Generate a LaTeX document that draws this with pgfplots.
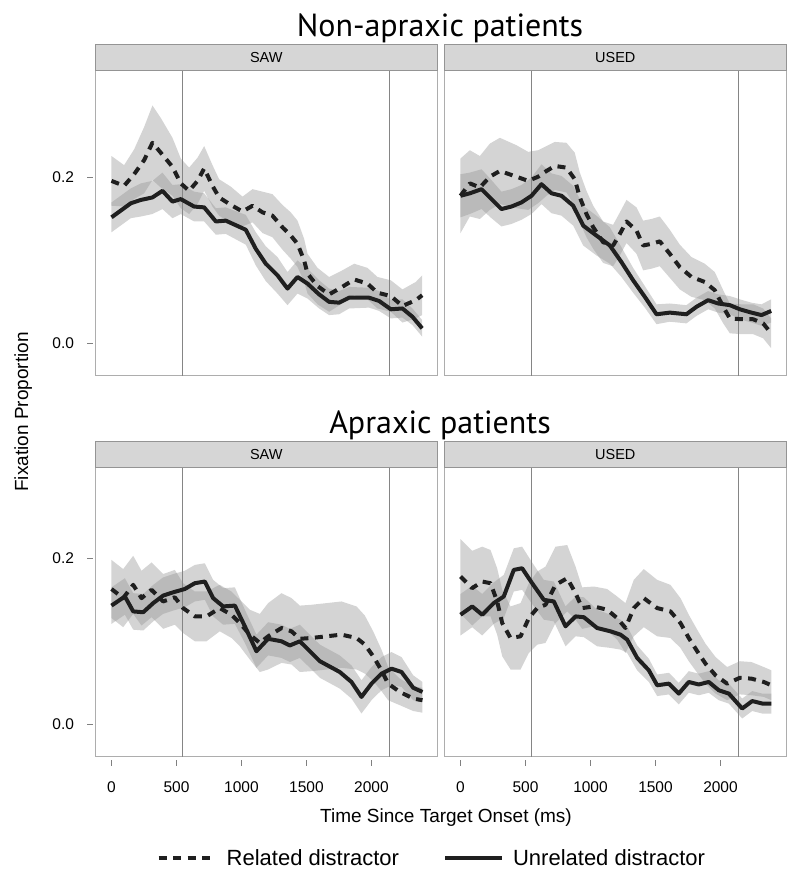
\documentclass[border=0pt]{standalone}
\usepackage{fontspec}
\setmainfont{Liberation Sans}
\newfontfamily\titlefont{PT Sans}
\usepackage{pgfplots}
\pgfplotsset{compat=1.18}
\usepackage{pgfplotstable}
\usepgfplotslibrary{fillbetween}

\definecolor{framegray}{gray}{0.68}
\definecolor{tickgray}{gray}{0.5}
\definecolor{stripfill}{gray}{0.84}
\definecolor{stripdraw}{gray}{0.58}
\definecolor{vgray}{gray}{0.52}
\definecolor{linec}{gray}{0.12}

% Non-apraxic, SAW, related
\pgfplotstableread{
t m se
0 0.196 0.030
97 0.190 0.025
174 0.204 0.030
251 0.221 0.040
315 0.242 0.045
379 0.230 0.042
469 0.213 0.035
533 0.193 0.030
597 0.184 0.028
662 0.196 0.028
713 0.211 0.027
777 0.190 0.025
828 0.176 0.022
918 0.167 0.022
1008 0.159 0.018
1085 0.166 0.020
1162 0.158 0.025
1238 0.154 0.026
1315 0.140 0.027
1379 0.130 0.028
1431 0.120 0.028
1482 0.100 0.026
1508 0.084 0.024
1585 0.069 0.022
1674 0.059 0.021
1764 0.067 0.020
1867 0.077 0.019
1969 0.072 0.019
2046 0.061 0.019
2149 0.057 0.019
2238 0.045 0.020
2341 0.052 0.022
2390 0.058 0.024
}\tlrel
% Non-apraxic, SAW, unrelated
\pgfplotstableread{
t m se
0 0.152 0.018
149 0.169 0.018
226 0.173 0.020
315 0.176 0.020
392 0.184 0.022
469 0.171 0.020
533 0.174 0.018
636 0.165 0.018
713 0.164 0.017
803 0.147 0.016
879 0.148 0.016
1033 0.137 0.018
1110 0.114 0.020
1187 0.096 0.021
1277 0.082 0.022
1354 0.066 0.020
1431 0.080 0.020
1508 0.072 0.018
1597 0.059 0.017
1674 0.050 0.016
1751 0.049 0.014
1828 0.055 0.013
1982 0.055 0.012
2059 0.051 0.012
2149 0.041 0.011
2238 0.042 0.011
2315 0.032 0.010
2390 0.018 0.010
}\tlunr
% Non-apraxic, USED, related
\pgfplotstableread{
t m se
0 0.178 0.045
72 0.193 0.040
149 0.188 0.038
226 0.201 0.040
303 0.208 0.040
431 0.201 0.038
521 0.196 0.035
597 0.201 0.032
662 0.208 0.030
726 0.214 0.029
815 0.212 0.030
879 0.198 0.032
918 0.176 0.030
969 0.156 0.028
1021 0.140 0.026
1097 0.122 0.025
1174 0.118 0.025
1226 0.132 0.026
1277 0.147 0.026
1354 0.136 0.028
1405 0.118 0.030
1469 0.120 0.030
1533 0.123 0.030
1610 0.108 0.029
1687 0.092 0.027
1777 0.080 0.024
1879 0.074 0.022
1956 0.064 0.022
2021 0.044 0.020
2072 0.030 0.018
2162 0.029 0.018
2251 0.029 0.018
2328 0.024 0.018
2390 0.012 0.018
}\trrel
% Non-apraxic, USED, unrelated
\pgfplotstableread{
t m se
0 0.178 0.026
72 0.181 0.025
162 0.186 0.024
238 0.174 0.023
315 0.162 0.021
392 0.165 0.021
469 0.170 0.021
546 0.178 0.022
623 0.192 0.024
700 0.181 0.024
777 0.178 0.024
867 0.166 0.024
944 0.142 0.024
1046 0.130 0.024
1149 0.118 0.022
1238 0.098 0.018
1328 0.076 0.015
1418 0.056 0.013
1508 0.035 0.012
1610 0.037 0.011
1738 0.035 0.011
1815 0.044 0.011
1905 0.052 0.011
1982 0.048 0.011
2072 0.046 0.011
2149 0.041 0.012
2238 0.037 0.012
2315 0.034 0.013
2390 0.039 0.014
}\trunr
% Apraxic, SAW, related
\pgfplotstableread{
t m se
0 0.163 0.035
90 0.152 0.035
167 0.168 0.035
231 0.152 0.033
308 0.162 0.033
397 0.148 0.033
487 0.153 0.033
551 0.140 0.030
641 0.130 0.030
731 0.130 0.030
833 0.140 0.028
923 0.132 0.028
987 0.122 0.028
1064 0.108 0.030
1141 0.098 0.035
1205 0.106 0.040
1308 0.116 0.042
1385 0.112 0.040
1449 0.103 0.040
1538 0.104 0.040
1654 0.106 0.040
1769 0.108 0.040
1885 0.104 0.038
1949 0.096 0.035
2013 0.082 0.030
2077 0.065 0.025
2128 0.049 0.020
2218 0.039 0.016
2321 0.031 0.015
2392 0.029 0.015
}\blrel
% Apraxic, SAW, unrelated
\pgfplotstableread{
t m se
0 0.143 0.022
103 0.154 0.022
167 0.136 0.022
244 0.135 0.022
321 0.146 0.022
397 0.155 0.022
474 0.159 0.022
564 0.163 0.022
641 0.170 0.022
718 0.172 0.022
782 0.152 0.022
859 0.142 0.022
949 0.143 0.022
1026 0.118 0.020
1115 0.088 0.020
1205 0.103 0.020
1308 0.100 0.020
1372 0.095 0.020
1449 0.100 0.020
1526 0.088 0.020
1603 0.076 0.020
1756 0.063 0.020
1846 0.051 0.020
1923 0.033 0.020
2000 0.049 0.020
2077 0.061 0.020
2154 0.067 0.020
2231 0.063 0.018
2321 0.044 0.015
2392 0.039 0.012
}\blunr
% Apraxic, USED, related
\pgfplotstableread{
t m se
0 0.178 0.045
90 0.164 0.045
167 0.172 0.042
231 0.170 0.040
282 0.148 0.040
321 0.122 0.040
385 0.104 0.038
462 0.106 0.040
526 0.128 0.042
590 0.140 0.044
654 0.144 0.046
731 0.168 0.046
821 0.176 0.040
885 0.158 0.032
936 0.140 0.025
1026 0.142 0.024
1128 0.138 0.025
1205 0.128 0.026
1269 0.116 0.030
1333 0.140 0.034
1410 0.152 0.035
1513 0.140 0.034
1615 0.136 0.032
1692 0.122 0.030
1756 0.104 0.028
1821 0.088 0.026
1885 0.073 0.024
1962 0.059 0.022
2051 0.049 0.020
2149 0.056 0.020
2238 0.055 0.020
2333 0.051 0.018
2392 0.047 0.018
}\brrel
% Apraxic, USED, unrelated
\pgfplotstableread{
t m se
0 0.132 0.025
90 0.142 0.025
167 0.132 0.025
256 0.146 0.025
333 0.154 0.026
410 0.186 0.026
474 0.188 0.026
551 0.170 0.025
641 0.150 0.024
718 0.148 0.024
808 0.118 0.024
885 0.130 0.024
949 0.129 0.024
1051 0.116 0.022
1154 0.112 0.020
1231 0.108 0.018
1282 0.102 0.016
1359 0.080 0.015
1449 0.065 0.014
1513 0.047 0.013
1603 0.049 0.013
1679 0.037 0.013
1756 0.051 0.013
1833 0.048 0.013
1910 0.051 0.013
1987 0.041 0.012
2064 0.037 0.012
2167 0.019 0.012
2244 0.028 0.012
2321 0.025 0.012
2392 0.025 0.012
}\brunr

\pgfplotsset{
  panel/.style={
    scale only axis, width=341.5pt, xmin=-123, xmax=2504, clip=false,
    axis line style={framegray, line width=1pt},
    tick pos=left, tick align=outside, major tick length=8pt,
    major tick style={draw=none},
    tick label style={font=\fontsize{15.5}{18}\selectfont},
    xticklabel style={yshift=-13pt},
    yticklabel style={xshift=-10pt},
    xtick={0,500,1000,1500,2000}, xticklabels={0,500,1000,1500,2000},
    ytick={0,0.2}, yticklabels={0.0,0.2},
  },
  ptop/.style={height=305.3pt, ymin=-0.0395, ymax=0.329, xtick=\empty},
  pbot/.style={height=289.5pt, ymin=-0.0394, ymax=0.3094},
  pright/.style={ytick=\empty},
  band/.style={draw=none, fill=black!41, fill opacity=0.41},
  rel/.style={linec, line width=4pt, dash pattern=on 8pt off 6.5pt, line join=round},
  unrel/.style={linec, line width=4pt, line join=round},
  vline/.style={vgray, line width=1.3pt},
}

\newcommand\band[2]{%
  \addplot[draw=none, forget plot, name path=#2u] table[x=t, y expr=\thisrow{m}+\thisrow{se}] {#1};
  \addplot[draw=none, forget plot, name path=#2l] table[x=t, y expr=\thisrow{m}-\thisrow{se}] {#1};
  \addplot[band, forget plot] fill between[of=#2u and #2l];
}
\newcommand\panelcontent[5]{% rel table, unrel table, ymin, ymax, strip label
  \band{#1}{ra}
  \band{#2}{ua}
  \addplot[vline, forget plot] coordinates {(545,#3) (545,#4)};
  \addplot[vline, forget plot] coordinates {(2140,#3) (2140,#4)};
  \addplot[unrel, forget plot] table[x=t, y=m] {#2};
  \addplot[rel, forget plot] table[x=t, y=m] {#1};
  \draw[stripdraw, fill=stripfill, line width=0.9pt] (rel axis cs:0,1) rectangle ([yshift=26.4pt]rel axis cs:1,1);
  \node[font=\fontsize{14.5}{16}\selectfont] at ([yshift=13.2pt]rel axis cs:0.5,1) {#5};
}
\newcommand\yticks{%
  \draw[tickgray, line width=1pt] ([xshift=-3pt]axis cs:-123,0) -- ([xshift=-9pt]axis cs:-123,0);
  \draw[tickgray, line width=1pt] ([xshift=-3pt]axis cs:-123,0.2) -- ([xshift=-9pt]axis cs:-123,0.2);
}
\newcommand\xticks{%
  \draw[tickgray, line width=1pt] ([yshift=-3.5pt]axis cs:0,-0.0394) -- ([yshift=-9.5pt]axis cs:0,-0.0394);
  \draw[tickgray, line width=1pt] ([yshift=-3.5pt]axis cs:500,-0.0394) -- ([yshift=-9.5pt]axis cs:500,-0.0394);
  \draw[tickgray, line width=1pt] ([yshift=-3.5pt]axis cs:1000,-0.0394) -- ([yshift=-9.5pt]axis cs:1000,-0.0394);
  \draw[tickgray, line width=1pt] ([yshift=-3.5pt]axis cs:1500,-0.0394) -- ([yshift=-9.5pt]axis cs:1500,-0.0394);
  \draw[tickgray, line width=1pt] ([yshift=-3.5pt]axis cs:2000,-0.0394) -- ([yshift=-9.5pt]axis cs:2000,-0.0394);
}

\begin{document}
\begin{tikzpicture}[x=1pt, y=1pt]
\path (0,0) rectangle (800,882);

\begin{axis}[panel, ptop, at={(95.5pt,506pt)}, anchor=south west]
  \panelcontent{\tlrel}{\tlunr}{-0.0395}{0.329}{SAW}
  \yticks
\end{axis}
\begin{axis}[panel, ptop, pright, at={(444.5pt,506pt)}, anchor=south west]
  \panelcontent{\trrel}{\trunr}{-0.0395}{0.329}{USED}
\end{axis}
\begin{axis}[panel, pbot, at={(95.5pt,125pt)}, anchor=south west,
    legend style={at={(0.985,-0.3489)}, anchor=center, draw=none, fill=none,
      legend columns=2, font=\fontsize{22}{26}\selectfont,
      /tikz/every odd column/.append style={column sep=7pt},
      /tikz/every even column/.append style={column sep=42pt}},
    legend image code/.code={\draw[#1] (0pt,0pt) -- (57pt,0pt);}]
  \panelcontent{\blrel}{\blunr}{-0.0394}{0.3094}{SAW}
  \yticks
  \xticks
  \addlegendimage{rel}
  \addlegendentry{Related distractor}
  \addlegendimage{unrel}
  \addlegendentry{Unrelated distractor}
\end{axis}
\begin{axis}[panel, pbot, pright, at={(444.5pt,125pt)}, anchor=south west]
  \panelcontent{\brrel}{\brunr}{-0.0394}{0.3094}{USED}
  \xticks
\end{axis}

\node[font=\titlefont\fontsize{32}{38}\selectfont, anchor=base] at (440,845.3) {Non-apraxic patients};
\node[font=\titlefont\fontsize{32}{38}\selectfont, anchor=base] at (440,448.6) {Apraxic patients};
\node[font=\fontsize{19}{22}\selectfont, anchor=base] at (446,59) {Time Since Target Onset (ms)};
\node[font=\fontsize{19}{22}\selectfont, anchor=base, rotate=90] at (28,470) {Fixation Proportion};
\end{tikzpicture}
\end{document}
